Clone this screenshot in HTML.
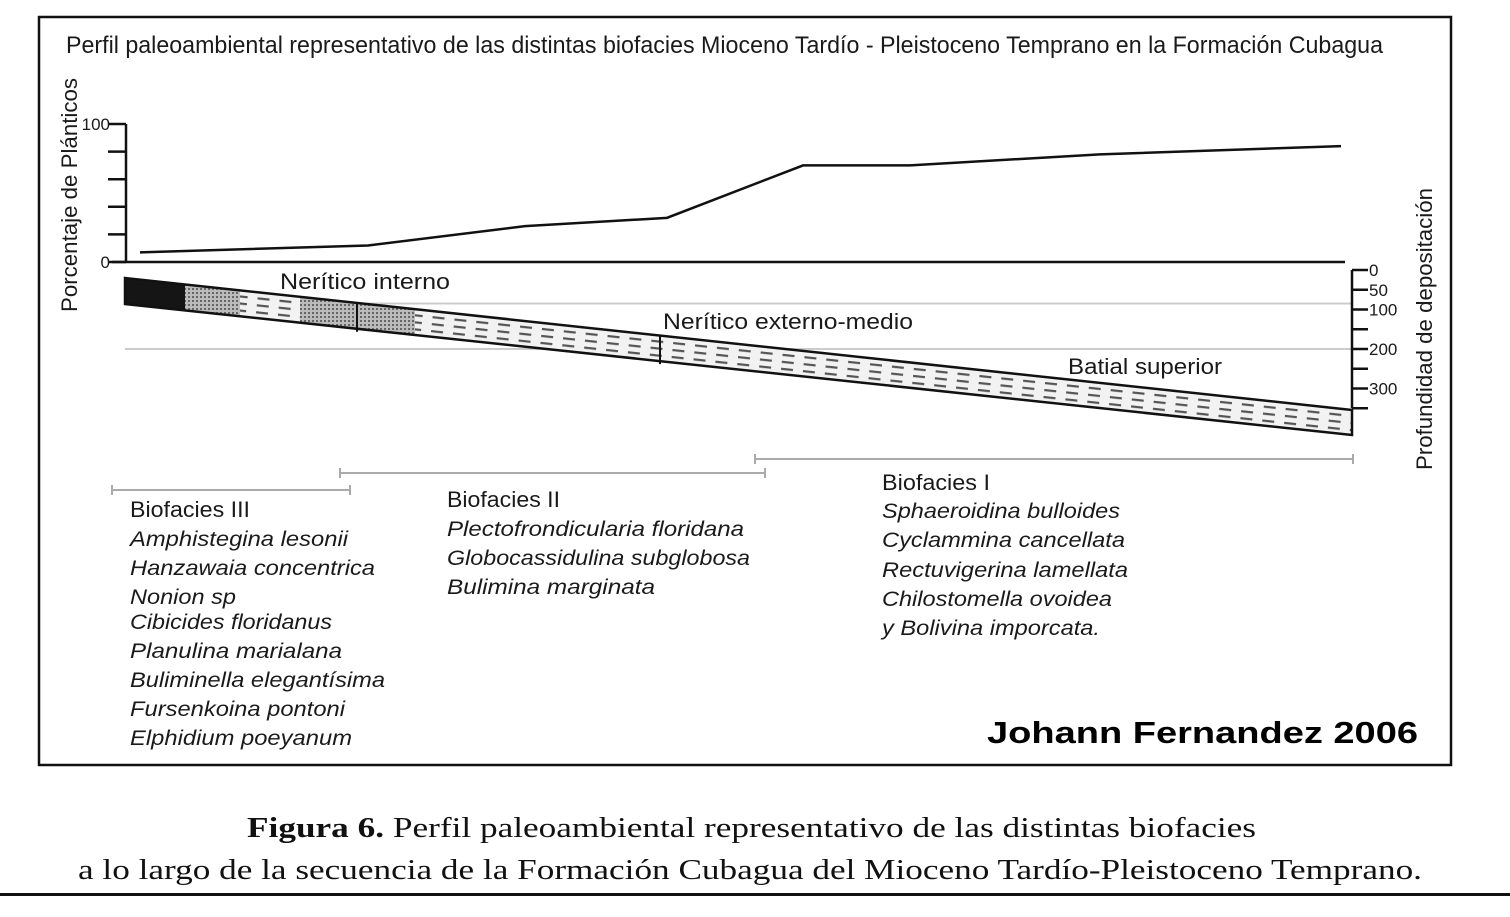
<!DOCTYPE html>
<html><head><meta charset="utf-8"><style>
body{margin:0;background:#fff}
svg{display:block}
.s{font-family:"Liberation Sans",sans-serif;fill:#1a1a1a}
.i{font-family:"Liberation Sans",sans-serif;font-style:italic;fill:#1a1a1a;font-size:21px}
.r{font-family:"Liberation Serif",serif;fill:#111;font-size:29px}
</style></head><body>
<svg width="1510" height="917" viewBox="0 0 1510 917">
<defs>
<pattern id="dash" width="22" height="7" patternUnits="userSpaceOnUse" patternTransform="rotate(6.14)">
<rect width="22" height="7" fill="#f2f2f2"/><rect x="2" y="2" width="12" height="2.2" fill="#555"/></pattern>
<pattern id="dot" width="4" height="4" patternUnits="userSpaceOnUse"><rect width="4" height="4" fill="#bbb"/><rect width="2" height="2" fill="#666"/></pattern>
</defs>
<rect x="39" y="17" width="1412" height="748" fill="none" stroke="#111" stroke-width="2.5"/>
<text class="s" x="66" y="53" font-size="24" textLength="1317" lengthAdjust="spacingAndGlyphs">Perfil paleoambiental representativo de las distintas biofacies Mioceno Tardío - Pleistoceno Temprano en la Formación Cubagua</text>
<text class="s" font-size="22" transform="translate(77,312) rotate(-90)" textLength="234" lengthAdjust="spacingAndGlyphs">Porcentaje de Plánticos</text>
<text class="s" font-size="22" transform="translate(1432,470) rotate(-90)" textLength="282" lengthAdjust="spacingAndGlyphs">Profundidad de depositación</text>
<g id="chart"></g>
<g id="band"></g>
<text class="s" x="280" y="289" font-size="22" textLength="170" lengthAdjust="spacingAndGlyphs">Nerítico interno</text>
<text class="s" x="663" y="329" font-size="22" textLength="250" lengthAdjust="spacingAndGlyphs">Nerítico externo-medio</text>
<text class="s" x="1068" y="374" font-size="22" textLength="154" lengthAdjust="spacingAndGlyphs">Batial superior</text>
<g stroke="#aaa" stroke-width="2">
<path d="M112 490H350M112 485v10M350 485v10"/>
<path d="M340 473H765M340 468v10M765 468v10"/>
<path d="M755 459H1353M755 454v10M1353 454v10"/>
</g>
<g id="lists"></g>
<text x="987" y="743" font-family="Liberation Sans,sans-serif" font-weight="bold" font-size="31" textLength="431" lengthAdjust="spacingAndGlyphs">Johann Fernandez 2006</text>
<text class="r" x="247" y="837" textLength="1009" lengthAdjust="spacingAndGlyphs"><tspan font-weight="bold">Figura 6.</tspan> Perfil paleoambiental representativo de las distintas biofacies</text>
<text class="r" x="78" y="879" textLength="1344" lengthAdjust="spacingAndGlyphs">a lo largo de la secuencia de la Formación Cubagua del Mioceno Tardío-Pleistoceno Temprano.</text>
<rect x="0" y="893" width="1510" height="3" fill="#111"/>
</svg>
<script>
const NS="http://www.w3.org/2000/svg";
const xPos=[140,368,525,667,803,910,1100,1341];
const pctValues=[7,12,26,32,70,70,78,84];
const pctTicks=[0,20,40,60,80,100];
const pctTickLabels=["0","","","","","100"];
const depthTicks=[0,50,100,150,200,250,300,350];
const depthTickLabels=["0","50","100","","200","","300",""];
const depthGridValues=[100,200];
function yP(v){return 262-v*1.38;}
function yD(d){return 270+d*0.395;}
function mk(tag,attrs,parent){const e=document.createElementNS(NS,tag);for(const k in attrs)e.setAttribute(k,attrs[k]);parent.appendChild(e);return e;}
const g=document.getElementById('chart');
let ax=mk('path',{d:`M126 ${yP(100)}V${yP(0)}M112 ${yP(0)}H1345`,stroke:'#111','stroke-width':2.5,fill:'none'},g);


pctTicks.forEach((t,i)=>{
 const tk=mk('line',{x1:108,x2:126,y1:yP(t),y2:yP(t),stroke:'#111','stroke-width':2.5},g);
 
 
 if(pctTickLabels[i]){const tx=mk('text',{x:110,y:yP(t)+6,'text-anchor':'end','font-size':17,class:'s'},g);tx.textContent=pctTickLabels[i];
 
 }
});
const ln=mk('polyline',{points:xPos.map((x,i)=>x+','+yP(pctValues[i])).join(' '),fill:'none',stroke:'#111','stroke-width':2.5},g);


depthGridValues.forEach(d=>{
 const yy=yD(d)-(d==100?6:0);
 const gl=mk('line',{x1:125,x2:1352,y1:yy,y2:yy,stroke:'#ccc','stroke-width':2},g);
 
 
});
const dax=mk('line',{x1:1352,x2:1352,y1:yD(0),y2:yD(350),stroke:'#111','stroke-width':2.5},g);


depthTicks.forEach((d,i)=>{
 const tk=mk('line',{x1:1352,x2:1368,y1:yD(d),y2:yD(d),stroke:'#111','stroke-width':2.5},g);
 
 
 if(depthTickLabels[i]){const tx=mk('text',{x:1369,y:yD(d)+6,'font-size':17,class:'s'},g);tx.textContent=depthTickLabels[i];
 
 }
});
const b=document.getElementById('band');
function bandTop(x){return 278+(x-125)*132/1227;}
function bandBot(x){return 304+(x-125)*131/1227;}
function seg(x1,x2,fill){return mk('polygon',{points:`${x1},${bandTop(x1)} ${x2},${bandTop(x2)} ${x2},${bandBot(x2)} ${x1},${bandBot(x1)}`,fill:fill},b);}
seg(125,1352,'url(#dash)');
seg(125,185,'#151515');
seg(185,240,'url(#dot)');
seg(300,357,'url(#dot)');
seg(357,415,'url(#dot)');
mk('polygon',{points:`125,${bandTop(125)} 1352,${bandTop(1352)} 1352,${bandBot(1352)} 125,${bandBot(125)}`,fill:'none',stroke:'#111','stroke-width':2.5},b);
[357,660].forEach(x=>mk('line',{x1:x,x2:x,y1:bandTop(x),y2:bandBot(x)+3,stroke:'#111','stroke-width':2},b));
const L=document.getElementById('lists');
const lists=[
 {x:130,ys:[517,546,575,604,629,658,687,716,745],t:["Biofacies III","Amphistegina lesonii","Hanzawaia concentrica","Nonion sp","Cibicides floridanus","Planulina marialana","Buliminella elegantísima","Fursenkoina pontoni","Elphidium poeyanum"],w:[120,218,245,106,202,212,255,215,222],name:'biofacies-iii-list'},
 {x:447,ys:[507,536,565,594],t:["Biofacies II","Plectofrondicularia floridana","Globocassidulina subglobosa","Bulimina marginata"],w:[113,297,303,208],name:'biofacies-ii-list'},
 {x:882,ys:[490,518,547,577,606,635],t:["Biofacies I","Sphaeroidina bulloides","Cyclammina cancellata","Rectuvigerina lamellata","Chilostomella ovoidea","y Bolivina imporcata."],w:[108,238,243,246,230,218],name:'biofacies-i-list'}
];
lists.forEach(l=>{
 const gg=mk('g',{},L);
 
 
 l.t.forEach((s,i)=>{
  const tx=mk('text',{x:l.x,y:l.ys[i],class:i?'i':'s','font-size':22,textLength:l.w[i],lengthAdjust:'spacingAndGlyphs'},gg);
  tx.textContent=s;
  
  
 });
});
</script>
</body></html>
